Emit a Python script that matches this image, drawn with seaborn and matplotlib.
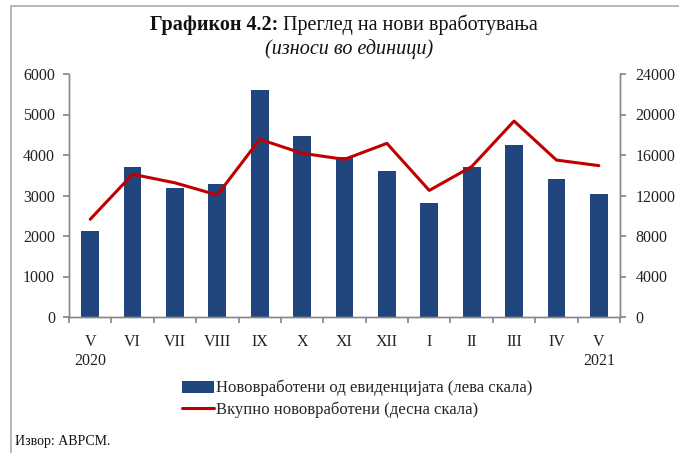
import matplotlib
matplotlib.use("Agg")
import matplotlib.pyplot as plt
from matplotlib.patches import Rectangle, Patch
from matplotlib.lines import Line2D
import seaborn as sns
import pandas as pd
import numpy as np

months = ["V", "VI", "VII", "VIII", "IX", "X", "XI", "XII", "I", "II", "III", "IV", "V"]
years = ["2020", "", "", "", "", "", "", "", "", "", "", "", "2021"]
registered = [2120, 3700, 3190, 3280, 5600, 4470, 3950, 3600, 2810, 3700, 4250, 3400, 3030]
total = [9650, 14100, 13250, 12050, 17550, 16170, 15570, 17150, 12500, 14850, 19350, 15500, 14950]

sns.set_theme(style="white")
plt.rcParams["font.family"] = ["Liberation Serif", "DejaVu Serif"]

df = pd.DataFrame({"pos": np.arange(len(months)), "registered": registered, "total": total})

fig = plt.figure(figsize=(6.79, 4.53), dpi=100)
ax = fig.add_axes([69/679, 1-317/453, (620-69)/679, (317-74)/453])

bar_color = "#21467E"
line_color = "#C00000"
sns.barplot(data=df, x="pos", y="registered", ax=ax, color=bar_color, width=0.42,
            saturation=1, edgecolor="none")
ax2 = ax.twinx()
sns.lineplot(data=df, x="pos", y="total", ax=ax2, color=line_color, linewidth=2.2)

n = len(months)
ax.set_xlim(-0.5, n - 0.5)
ax2.set_xlim(-0.5, n - 0.5)
ax.set_ylim(0, 6000)
ax2.set_ylim(0, 24000)
ax.set_yticks(np.arange(0, 6001, 1000))
ax2.set_yticks(np.arange(0, 24001, 4000))
ax.set_xticks(np.arange(-0.5, n, 1.0))
ax.set_xticklabels([])
ax.set_xticks(np.arange(n), minor=True)
labels = [m + ("\n" + y if y else "") for m, y in zip(months, years)]
ax.set_xticklabels(labels, minor=True, fontsize=11.5, color="#222222", va="top", linespacing=1.3)
ax.tick_params(axis="x", which="minor", length=0, pad=12)
ax.tick_params(axis="x", which="major", length=4, color="#888888", direction="out", bottom=True)
ax.tick_params(axis="y", length=4, color="#888888", direction="out", left=True, labelsize=11.5, labelcolor="#222222", pad=6)
ax2.tick_params(axis="y", length=4, color="#888888", direction="out", right=True, labelsize=11.5, labelcolor="#222222", pad=7)
for a in (ax, ax2):
    a.set_xlabel("")
    a.set_ylabel("")
    a.spines["top"].set_visible(False)
    for s in ("left", "right", "bottom"):
        a.spines[s].set_color("#888888")
        a.spines[s].set_linewidth(1.0)
ax2.grid(False)
ax.grid(False)

# title
t1 = fig.text(150/679, 1-25/453, "Графикон 4.2:", fontsize=14.5, fontweight="bold", ha="left", va="center", color="#111111")
fig.canvas.draw()
bb = t1.get_window_extent()
fig.text(bb.x1/679 + 5/679, 1-25/453, "Преглед на нови вработувања", fontsize=14.5, ha="left", va="center", color="#111111")
fig.text(349/679, 1-49/453, "(износи во единици)", fontsize=14.5, style="italic", ha="center", va="center", color="#111111")

handles = [Patch(facecolor=bar_color, edgecolor="none"),
           Line2D([0], [0], color=line_color, linewidth=2.2)]
fig.legend(handles, ["Нововработени од евиденцијата (лева скала)", "Вкупно нововработени (десна скала)"],
           loc="upper left", bbox_to_anchor=(182/679, 1-380/453), frameon=False, fontsize=12,
           handlelength=1.9, handletextpad=0.15, labelspacing=0.3, borderaxespad=0, borderpad=0)

fig.text(15/679, 1-441/453, "Извор: АВРСМ.", fontsize=10, ha="left", va="center", color="#111111")

fig.add_artist(Rectangle((11/679, -0.05), 1.2, 1 - 6/453 + 0.05, transform=fig.transFigure,
                         fill=False, edgecolor="#AAAAAA", linewidth=1.2))

fig.savefig("out.png", dpi=100)
